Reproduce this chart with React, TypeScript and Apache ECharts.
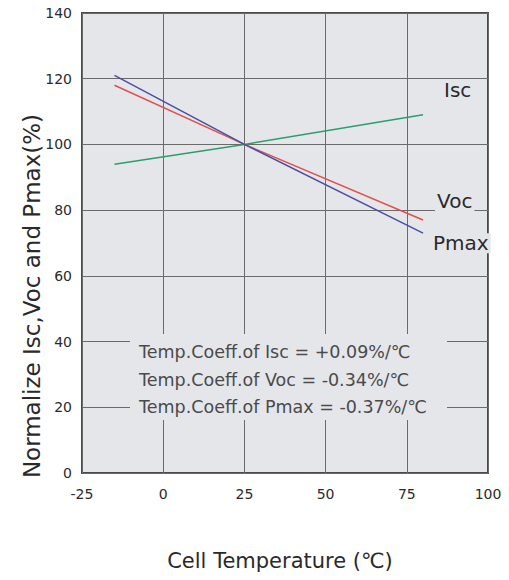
import React, { useEffect, useRef } from "react";
import * as echarts from "echarts";

const temps = [-15, 25, 80];
const iscValues = [94, 100, 109];
const vocValues = [118, 100, 77];
const pmaxValues = [121, 100, 73];
const xTicks = [-25, 0, 25, 50, 75, 100];
const yTicks = [0, 20, 40, 60, 80, 100, 120, 140];
const coeffLines = [
  "Temp.Coeff.of Isc = +0.09%/\u2103",
  "Temp.Coeff.of Voc = -0.34%/\u2103",
  "Temp.Coeff.of Pmax = -0.37%/\u2103",
];
const seriesNames = ["Isc", "Voc", "Pmax"];

const BG = "#e5e6ea";
const FONT = "'DejaVu Sans', Verdana, sans-serif";

export default function App() {
  const ref = useRef<HTMLDivElement>(null);
  useEffect(() => {
    document.body.style.margin = "0";
    const chart = echarts.init(ref.current!, null, { renderer: "svg" });
    const mk = (name: string, vals: number[], color: string, offset: number[]) => ({
      name,
      type: "line",
      data: temps.map((t, i) => [t, vals[i]]),
      symbol: "none",
      lineStyle: { color, width: 1.5 },
      itemStyle: { color },
      z: 3,
      endLabel: {
        show: true,
        formatter: name,
        offset,
        fontFamily: FONT,
        fontSize: 20,
        color: "#2a2a2a",
        backgroundColor: BG,
        padding: [0, 2],
      },
    });
    chart.setOption({
      animation: false,
      grid: {
        left: 82,
        right: 21,
        top: 13,
        bottom: 107,
        show: true,
        backgroundColor: BG,
        borderColor: "#4a4a4a",
        borderWidth: 2,
      },
      xAxis: {
        type: "value",
        min: xTicks[0],
        max: xTicks[xTicks.length - 1],
        interval: 25,
        name: "Cell Temperature (\u2103)",
        nameLocation: "middle",
        nameGap: 77,
        nameTextStyle: { fontFamily: FONT, fontSize: 21, color: "#2a2a2a", padding: [0, 10, 0, 0] },
        axisLine: { show: false },
        axisTick: { show: false },
        axisLabel: { fontFamily: FONT, fontSize: 14, color: "#2a2a2a", margin: 14 },
        splitLine: { show: true, lineStyle: { color: "#6a6a6a", width: 1 } },
      },
      yAxis: {
        type: "value",
        min: yTicks[0],
        max: yTicks[yTicks.length - 1],
        interval: 20,
        axisLine: { show: false },
        axisTick: { show: false },
        axisLabel: { fontFamily: FONT, fontSize: 14, color: "#2a2a2a", margin: 10 },
        splitLine: { show: true, lineStyle: { color: "#6a6a6a", width: 1 } },
      },
      series: [
        mk(seriesNames[0], iscValues, "#2a9e6c", [11, -25]),
        mk(seriesNames[1], vocValues, "#e0504c", [4, -19]),
        mk(seriesNames[2], pmaxValues, "#4a4fa2", [0, 10]),
      ],
      graphic: [
        {
          type: "rect",
          shape: { x: 130, y: 334, width: 317, height: 86 },
          style: { fill: BG },
          z: 2,
        },
        ...coeffLines.map((t, i) => ({
          type: "text",
          x: 139,
          y: 352 + i * 27.5,
          z: 3,
          style: {
            text: t,
            fontFamily: FONT,
            fontSize: 17.5,
            fill: "#4a4a4a",
            textAlign: "left",
            textVerticalAlign: "middle",
          },
        })),
        {
          type: "text",
          x: 32,
          y: 296,
          rotation: Math.PI / 2,
          style: {
            text: "Normalize Isc,Voc and Pmax(%)",
            fontFamily: FONT,
            fontSize: 23,
            fill: "#2a2a2a",
            textAlign: "center",
            textVerticalAlign: "middle",
          },
        },
      ],
    });
    return () => chart.dispose();
  }, []);
  return <div ref={ref} style={{ width: 509, height: 580 }} />;
}
